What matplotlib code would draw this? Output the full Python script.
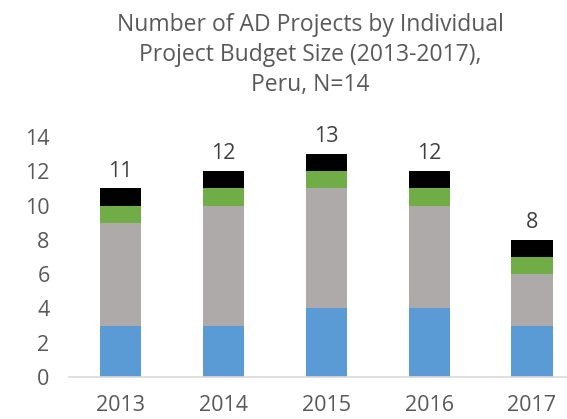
import matplotlib
matplotlib.use("Agg")
import matplotlib.pyplot as plt
import numpy as np

years = ["2013", "2014", "2015", "2016", "2017"]
blue = [3, 3, 4, 4, 3]
gray = [6, 7, 7, 6, 3]
green = [1, 1, 1, 1, 1]
black = [1, 1, 1, 1, 1]
totals = [11, 12, 13, 12, 8]

plt.rcParams['font.family'] = ['Open Sans', 'DejaVu Sans']
fig = plt.figure(figsize=(5.67, 4.19), dpi=100)
W, H = 567, 419
ax = fig.add_axes([69 / W, 1 - 377 / H, (567 - 69) / W, (377 - 137) / H])

x = np.arange(len(years))
w = 0.4
bottom = np.zeros(len(years))
for vals, col in [(blue, "#5b9bd5"), (gray, "#aeaaaa"), (green, "#70ad47"), (black, "#000000")]:
    ax.bar(x, vals, w, bottom=bottom, color=col)
    bottom += np.array(vals)

for xi, t in zip(x, totals):
    ax.text(xi, t + 0.4, str(t), ha="center", va="bottom", fontsize=15.5, color="#404040")

ax.set_xlim(-0.5, 4.34)
ax.set_ylim(0, 14)
ax.set_yticks(range(0, 15, 2))
ax.set_xticks(x)
ax.set_xticklabels(years)
ax.tick_params(axis="both", length=0, labelsize=15.5, colors="#595959")
ax.tick_params(axis="y", pad=14)
ax.tick_params(axis="x", pad=13)
for s in ["top", "right", "left"]:
    ax.spines[s].set_visible(False)
ax.spines["bottom"].set_color("#d9d9d9")
ax.spines["bottom"].set_linewidth(1.2)

fig.text(310 / W, 1 - 55 / H, "Number of AD Projects by Individual\nProject Budget Size (2013-2017),\nPeru, N=14",
         ha="center", va="center", fontsize=16.5, color="#595959", linespacing=1.35)

fig.savefig("out.png", dpi=100)
